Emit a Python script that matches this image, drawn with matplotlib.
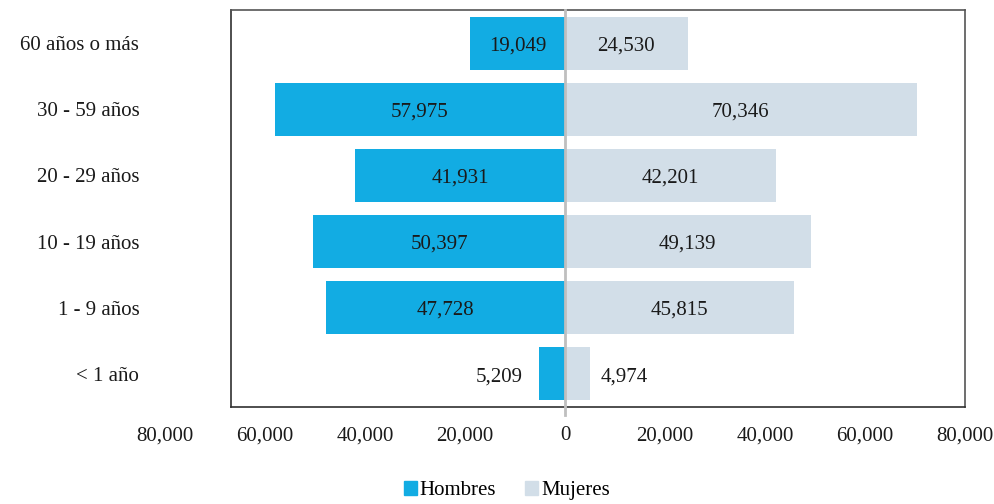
import matplotlib
matplotlib.use("Agg")
import matplotlib.pyplot as plt
from matplotlib.patches import Patch
import numpy as np

categories = ["< 1 año", "1 - 9 años", "10 - 19 años", "20 - 29 años", "30 - 59 años", "60 años o más"]
hombres = [5209, 47728, 50397, 41931, 57975, 19049]
mujeres = [4974, 45815, 49139, 42201, 70346, 24530]
xticks = [-80000, -60000, -40000, -20000, 0, 20000, 40000, 60000, 80000]
xticklabels = ["80,000", "60,000", "40,000", "20,000", "0", "20,000", "40,000", "60,000", "80,000"]

c_h = "#12ACE3"
c_m = "#D2DEE8"
FONT = "Liberation Serif"
FS = 15

plt.rcParams['font.family'] = [FONT, 'DejaVu Serif']

fig = plt.figure(figsize=(9.94, 5.04), dpi=100)
ax = fig.add_axes([165/994, (504-407)/504, 800/994, 397/504])

y = np.arange(len(categories))
ax.barh(y, [-v for v in hombres], height=0.8, color=c_h, zorder=2)
ax.barh(y, mujeres, height=0.8, color=c_m, zorder=2)

ax.set_xlim(-80000, 80000)
ax.set_ylim(-0.5, len(categories) - 0.5)
left_edge = -66800

# box
for s in ['top', 'bottom']:
    ax.spines[s].set_bounds(left_edge, 80000)
    ax.spines[s].set_linewidth(1.2)
ax.spines['top'].set_color('#555555')
ax.spines['bottom'].set_color('#303030')
ax.spines['left'].set_position(('data', left_edge))
ax.spines['left'].set_color('#303030')
ax.spines['right'].set_color('#555555')
ax.spines['left'].set_linewidth(1.2)
ax.spines['right'].set_linewidth(1.2)

# center line
ax.plot([0, 0], [-0.62, len(categories) - 0.5], color='#BFBFBF', lw=2, zorder=3, clip_on=False)

ax.set_xticks(xticks)
ax.set_xticklabels(xticklabels, fontsize=FS, color='#1a1a1a')
ax.set_yticks(y)
ax.set_yticklabels(categories, fontsize=FS, color='#1a1a1a')
ax.tick_params(axis='x', length=0, pad=14)
ax.tick_params(axis='y', length=0, pad=66)

dy = -0.04
for i, (h, m) in enumerate(zip(hombres, mujeres)):
    if h > 10000:
        ax.text(-h / 2, i + dy, f"{h:,}", ha='center', va='center', fontsize=FS, color='#1a1a1a', zorder=4)
    else:
        ax.text(-h - 3200, i + dy, f"{h:,}", ha='right', va='center', fontsize=FS, color='#1a1a1a', zorder=4)
    if m > 10000:
        ax.text(m / 2, i + dy, f"{m:,}", ha='center', va='center', fontsize=FS, color='#1a1a1a', zorder=4)
    else:
        ax.text(m + 2200, i + dy, f"{m:,}", ha='left', va='center', fontsize=FS, color='#1a1a1a', zorder=4)

handles = [Patch(color=c_h, label="Hombres"), Patch(color=c_m, label="Mujeres")]
fig.legend(handles=handles, loc='lower center', bbox_to_anchor=(507/994, -0.03), ncol=2,
           frameon=False, fontsize=FS, handlelength=0.6, handleheight=0.6,
           handletextpad=0.15, columnspacing=1.4)

fig.savefig("out.png", dpi=100)
